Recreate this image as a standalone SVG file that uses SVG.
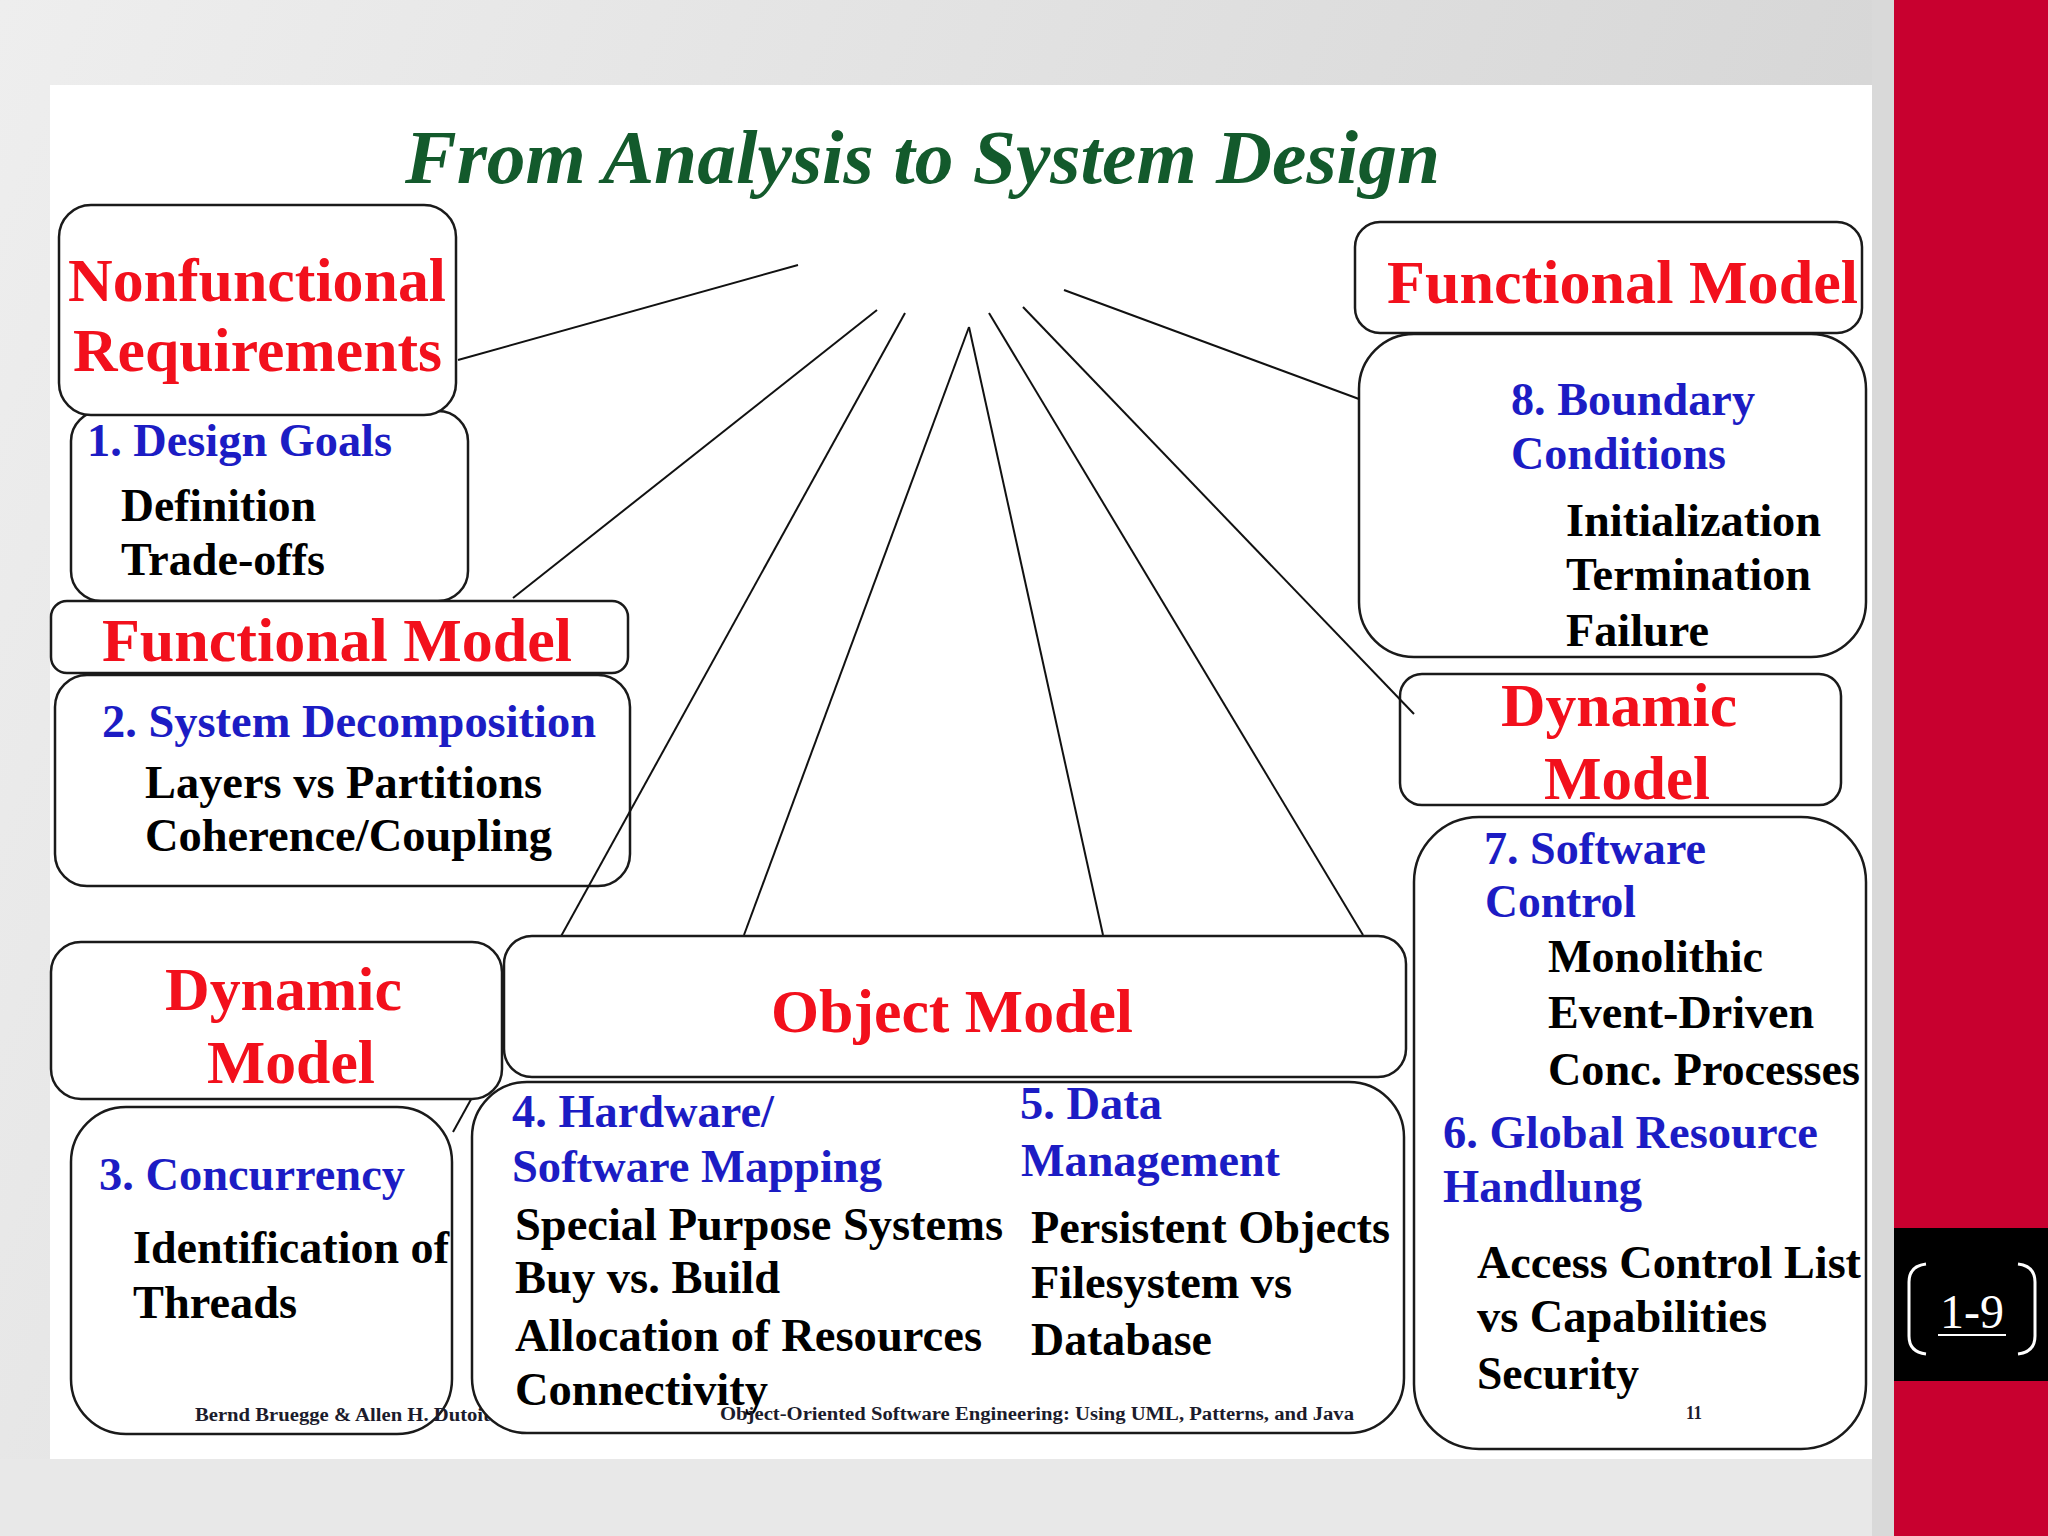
<svg xmlns="http://www.w3.org/2000/svg" width="2048" height="1536" viewBox="0 0 2048 1536">
<defs>
<linearGradient id="bg" x1="0" y1="0" x2="1" y2="0.3">
<stop offset="0" stop-color="#eeeeee"/>
<stop offset="1" stop-color="#d3d3d3"/>
</linearGradient>
<style>
.box{fill:#fff;stroke:#1a1a1a;stroke-width:2.5}
.t{font-family:"Liberation Serif","Times New Roman",serif;font-weight:bold;font-size:46px}
.red{fill:#f2101c;font-size:62px}
.blue{fill:#1c1cc4}
.blk{fill:#000}
.ft{font-family:"Liberation Serif","Times New Roman",serif;font-weight:bold;font-size:18px;fill:#1c1c2c}
.ln{stroke:#111;stroke-width:2;fill:none}
</style>
</defs>
<rect x="0" y="0" width="2048" height="1536" fill="url(#bg)"/>
<rect x="0" y="1459" width="1894" height="77" fill="#e8e8e8"/>
<rect x="1872" y="0" width="22" height="1536" fill="#d9d9d9"/>
<rect x="50" y="85" width="1822" height="1374" fill="#fff"/>
<rect x="1894" y="0" width="154" height="1536" fill="#c8002f"/>
<g id="pagenum">
<rect x="1894" y="1228" width="154" height="153" fill="#000"/>
<path d="M1926,1264 Q1909,1266 1909,1282 L1909,1336 Q1909,1352 1926,1354" fill="none" stroke="#fff" stroke-width="3"/>
<path d="M2018,1264 Q2035,1266 2035,1282 L2035,1336 Q2035,1352 2018,1354" fill="none" stroke="#fff" stroke-width="3"/>
<text x="1940" y="1328" font-family="Liberation Serif, Times New Roman, serif" font-size="48" fill="#fff">1-9</text>
<line x1="1938" y1="1335" x2="2006" y2="1335" stroke="#fff" stroke-width="2"/>
</g>
<text id="title" x="405" y="183" font-family="Liberation Serif, Times New Roman, serif" font-weight="bold" font-style="italic" font-size="76" fill="#135a2c" textLength="1035" lengthAdjust="spacingAndGlyphs">From Analysis to System Design</text>

<g id="design-goals">
<rect class="box" x="71" y="411" width="397" height="190" rx="30"/>
<text class="t blue" x="87" y="456" textLength="305" lengthAdjust="spacingAndGlyphs">1. Design Goals</text>
<text class="t blk" x="121" y="521" textLength="195" lengthAdjust="spacingAndGlyphs">Definition</text>
<text class="t blk" x="121" y="575" textLength="204" lengthAdjust="spacingAndGlyphs">Trade-offs</text>
</g>
<g id="nonfunctional">
<rect class="box" x="59" y="205" width="397" height="210" rx="32"/>
<text class="t red" x="68" y="301" textLength="378" lengthAdjust="spacingAndGlyphs">Nonfunctional</text>
<text class="t red" x="73" y="371" textLength="369" lengthAdjust="spacingAndGlyphs">Requirements</text>
</g>
<g id="functional-left">
<rect class="box" x="51" y="601" width="577" height="72" rx="16"/>
<text class="t red" x="102" y="661" textLength="470" lengthAdjust="spacingAndGlyphs">Functional Model</text>
</g>
<g id="system-decomposition">
<rect class="box" x="55" y="675" width="575" height="211" rx="32"/>
<text class="t blue" x="102" y="737" textLength="494" lengthAdjust="spacingAndGlyphs">2. System Decomposition</text>
<text class="t blk" x="145" y="798" textLength="397" lengthAdjust="spacingAndGlyphs">Layers vs Partitions</text>
<text class="t blk" x="145" y="851" textLength="407" lengthAdjust="spacingAndGlyphs">Coherence/Coupling</text>
</g>
<g id="functional-right">
<rect class="box" x="1355" y="222" width="507" height="111" rx="25"/>
<text class="t red" x="1387" y="303" textLength="471" lengthAdjust="spacingAndGlyphs">Functional Model</text>
</g>
<g id="boundary-conditions">
<rect class="box" x="1359" y="334" width="507" height="323" rx="55"/>
<text class="t blue" x="1511" y="415" textLength="244" lengthAdjust="spacingAndGlyphs">8. Boundary</text>
<text class="t blue" x="1511" y="469" textLength="215" lengthAdjust="spacingAndGlyphs">Conditions</text>
<text class="t blk" x="1566" y="536" textLength="255" lengthAdjust="spacingAndGlyphs">Initialization</text>
<text class="t blk" x="1566" y="590" textLength="245" lengthAdjust="spacingAndGlyphs">Termination</text>
<text class="t blk" x="1566" y="646" textLength="143" lengthAdjust="spacingAndGlyphs">Failure</text>
</g>
<g id="dynamic-right">
<rect class="box" x="1400" y="674" width="441" height="131" rx="22"/>
<text class="t red" x="1501" y="726" textLength="236" lengthAdjust="spacingAndGlyphs">Dynamic</text>
<text class="t red" x="1544" y="799" textLength="166" lengthAdjust="spacingAndGlyphs">Model</text>
</g>
<g id="software-control">
<rect class="box" x="1414" y="817" width="452" height="632" rx="65"/>
<text class="t blue" x="1484" y="864" textLength="222" lengthAdjust="spacingAndGlyphs">7. Software</text>
<text class="t blue" x="1485" y="917" textLength="151" lengthAdjust="spacingAndGlyphs">Control</text>
<text class="t blk" x="1548" y="972" textLength="215" lengthAdjust="spacingAndGlyphs">Monolithic</text>
<text class="t blk" x="1548" y="1028" textLength="266" lengthAdjust="spacingAndGlyphs">Event-Driven</text>
<text class="t blk" x="1548" y="1085" textLength="312" lengthAdjust="spacingAndGlyphs">Conc. Processes</text>
<text class="t blue" x="1443" y="1148" textLength="375" lengthAdjust="spacingAndGlyphs">6. Global Resource</text>
<text class="t blue" x="1443" y="1202" textLength="199" lengthAdjust="spacingAndGlyphs">Handlung</text>
<text class="t blk" x="1477" y="1278" textLength="384" lengthAdjust="spacingAndGlyphs">Access Control List</text>
<text class="t blk" x="1477" y="1332" textLength="290" lengthAdjust="spacingAndGlyphs">vs Capabilities</text>
<text class="t blk" x="1477" y="1389" textLength="162" lengthAdjust="spacingAndGlyphs">Security</text>
<text class="ft" x="1686" y="1419" textLength="16" lengthAdjust="spacingAndGlyphs">11</text>
</g>

<g id="connectors">
<line class="ln" x1="798" y1="265" x2="458" y2="360"/>
<line class="ln" x1="877" y1="310" x2="513" y2="598"/>
<line class="ln" x1="905" y1="313" x2="453" y2="1132"/>
<line class="ln" x1="969" y1="327" x2="744" y2="935"/>
<line class="ln" x1="969" y1="327" x2="1103" y2="935"/>
<line class="ln" x1="989" y1="313" x2="1363" y2="935"/>
<line class="ln" x1="1023" y1="307" x2="1414" y2="714"/>
<line class="ln" x1="1064" y1="290" x2="1359" y2="399"/>
</g>

<g id="object-model">
<rect class="box" x="504" y="936" width="902" height="141" rx="28"/>
<text class="t red" x="771" y="1032" textLength="362" lengthAdjust="spacingAndGlyphs">Object Model</text>
</g>
<g id="dynamic-left">
<rect class="box" x="51" y="942" width="451" height="157" rx="30"/>
<text class="t red" x="165" y="1010" textLength="237" lengthAdjust="spacingAndGlyphs">Dynamic</text>
<text class="t red" x="207" y="1083" textLength="168" lengthAdjust="spacingAndGlyphs">Model</text>
</g>
<g id="concurrency">
<rect class="box" x="71" y="1107" width="381" height="327" rx="55"/>
<text class="t blue" x="99" y="1190" textLength="306" lengthAdjust="spacingAndGlyphs">3. Concurrency</text>
<text class="t blk" x="133" y="1263" textLength="316" lengthAdjust="spacingAndGlyphs">Identification of</text>
<text class="t blk" x="133" y="1318" textLength="164" lengthAdjust="spacingAndGlyphs">Threads</text>
<text class="ft" x="195" y="1421" textLength="295" lengthAdjust="spacingAndGlyphs">Bernd Bruegge &amp; Allen H. Dutoit</text>
</g>
<g id="hardware-data">
<rect class="box" x="472" y="1082" width="932" height="351" rx="55"/>
<text class="t blue" x="512" y="1127" textLength="262" lengthAdjust="spacingAndGlyphs">4. Hardware/</text>
<text class="t blue" x="512" y="1182" textLength="370" lengthAdjust="spacingAndGlyphs">Software Mapping</text>
<text class="t blk" x="515" y="1240" textLength="488" lengthAdjust="spacingAndGlyphs">Special Purpose Systems</text>
<text class="t blk" x="515" y="1293" textLength="265" lengthAdjust="spacingAndGlyphs">Buy vs. Build</text>
<text class="t blk" x="515" y="1351" textLength="467" lengthAdjust="spacingAndGlyphs">Allocation of Resources</text>
<text class="t blk" x="515" y="1405" textLength="253" lengthAdjust="spacingAndGlyphs">Connectivity</text>
<text class="t blue" x="1020" y="1119" textLength="142" lengthAdjust="spacingAndGlyphs">5. Data</text>
<text class="t blue" x="1021" y="1176" textLength="259" lengthAdjust="spacingAndGlyphs">Management</text>
<text class="t blk" x="1031" y="1243" textLength="359" lengthAdjust="spacingAndGlyphs">Persistent Objects</text>
<text class="t blk" x="1031" y="1298" textLength="261" lengthAdjust="spacingAndGlyphs">Filesystem vs</text>
<text class="t blk" x="1031" y="1355" textLength="181" lengthAdjust="spacingAndGlyphs">Database</text>
<text class="ft" x="720" y="1420" textLength="634" lengthAdjust="spacingAndGlyphs">Object-Oriented Software Engineering: Using UML, Patterns, and Java</text>
</g>
</svg>
